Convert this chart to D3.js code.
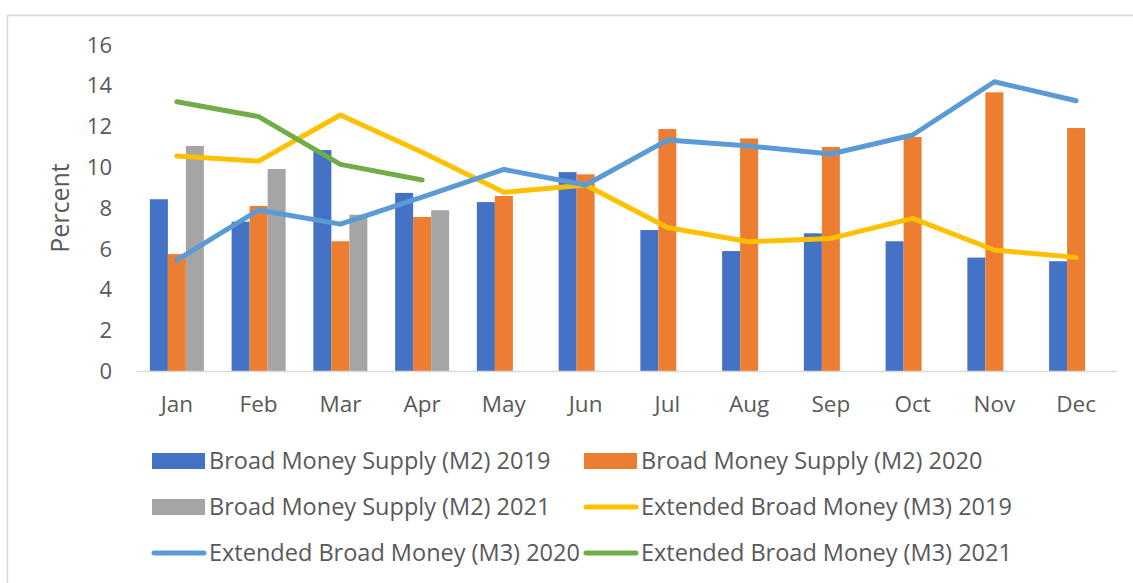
<!DOCTYPE html>
<html lang="en">
<head>
<meta charset="utf-8">
<title>Money supply</title>
<script src="https://d3js.org/d3.v7.min.js"></script>
<style>
body { margin:0; background:#fff; }
svg text { font-family: 'Open Sans', sans-serif; fill:#595959; }
</style>
</head>
<body>
<div id="chart"></div>
<script>
var months = ["Jan","Feb","Mar","Apr","May","Jun","Jul","Aug","Sep","Oct","Nov","Dec"];
var yTicks = [0,2,4,6,8,10,12,14,16];

var m2_2019 = [8.42,7.32,10.83,8.73,8.28,9.75,6.91,5.88,6.75,6.36,5.56,5.38];
var m2_2020 = [5.73,8.09,6.36,7.55,8.58,9.64,11.86,11.4,10.98,11.47,13.66,11.91];
var m2_2021 = [11.03,9.9,7.66,7.88];
var m3_2019 = [10.54,10.29,12.55,10.72,8.76,9.12,7.03,6.34,6.5,7.48,5.93,5.57];
var m3_2020 = [5.44,7.89,7.2,8.52,9.88,9.12,11.32,11.03,10.64,11.57,14.18,13.25];
var m3_2021 = [13.2,12.47,10.13,9.36];

var barSeries = [
  {name:"Broad Money Supply (M2) 2019", values:m2_2019, color:"#4472C4"},
  {name:"Broad Money Supply (M2) 2020", values:m2_2020, color:"#ED7D31"},
  {name:"Broad Money Supply (M2) 2021", values:m2_2021, color:"#A5A5A5"}
];
var lineSeries = [
  {name:"Extended Broad Money (M3) 2019", values:m3_2019, color:"#FFC000"},
  {name:"Extended Broad Money (M3) 2020", values:m3_2020, color:"#5B9BD5"},
  {name:"Extended Broad Money (M3) 2021", values:m3_2021, color:"#70AD47"}
];

var W = 1133, H = 583;
var svg = d3.select("#chart").append("svg").attr("width",W).attr("height",H);

svg.append("rect").attr("x",7.5).attr("y",15.5).attr("width",1130).attr("height",570)
  .attr("fill","none").attr("stroke","#d9d9d9").attr("stroke-width",1.5);

var x = d3.scaleBand().domain(months).range([136,1117]).paddingInner(0).paddingOuter(0);
var inner = d3.scaleBand().domain([0,1,2]).range([x.bandwidth()/2-27, x.bandwidth()/2+27]);
var y = d3.scaleLinear().domain([0,16]).range([371,44.6]);

// y tick labels
svg.append("g").selectAll("text").data(yTicks).enter().append("text")
  .attr("x",112).attr("y",function(d){ return y(d); }).attr("dy","0.36em")
  .attr("text-anchor","end").style("font-size","22px").text(function(d){ return d; });

svg.append("text").attr("transform","translate(60,208) rotate(-90)")
  .attr("text-anchor","middle").attr("dy","0.36em").style("font-size","25px").text("Percent");

// bars
barSeries.forEach(function(s,si){
  svg.append("g").selectAll("rect").data(s.values).enter().append("rect")
    .attr("x",function(d,i){ return x(months[i]) + inner(si); })
    .attr("width",inner.bandwidth())
    .attr("y",function(d){ return y(d); })
    .attr("height",function(d){ return y(0)-y(d); })
    .attr("fill",s.color);
});

// axis line
svg.append("line").attr("x1",136).attr("x2",1117).attr("y1",y(0)+0.5).attr("y2",y(0)+0.5)
  .attr("stroke","#d9d9d9").attr("stroke-width",1.5);

// month labels
svg.append("g").selectAll("text").data(months).enter().append("text")
  .attr("x",function(d){ return x(d)+x.bandwidth()/2; }).attr("y",404).attr("dy","0.36em")
  .attr("text-anchor","middle").style("font-size","22.5px").text(function(d){ return d; });

// lines
var line = d3.line()
  .x(function(d,i){ return x(months[i])+x.bandwidth()/2; })
  .y(function(d){ return y(d); });
lineSeries.forEach(function(s){
  svg.append("path").datum(s.values).attr("d",line)
    .attr("fill","none").attr("stroke",s.color).attr("stroke-width",5)
    .attr("stroke-linecap","round").attr("stroke-linejoin","round");
});

// legend
var legendItems = [
  {s:barSeries[0], type:"bar"}, {s:barSeries[1], type:"bar"},
  {s:barSeries[2], type:"bar"}, {s:lineSeries[0], type:"line"},
  {s:lineSeries[1], type:"line"}, {s:lineSeries[2], type:"line"}
];
var colX = [152, 584], rowY = [461, 507, 553];
legendItems.forEach(function(it,i){
  var gx = colX[i%2], gy = rowY[Math.floor(i/2)];
  var g = svg.append("g").attr("transform","translate("+gx+","+gy+")");
  if(it.type=="bar"){
    g.append("rect").attr("x",0).attr("y",-8).attr("width",53).attr("height",16).attr("fill",it.s.color);
  } else {
    g.append("line").attr("x1",2).attr("x2",52).attr("y1",0).attr("y2",0)
      .attr("stroke",it.s.color).attr("stroke-width",5).attr("stroke-linecap","round");
  }
  g.append("text").attr("x",57).attr("y",0).attr("dy","0.36em")
    .style("font-size","23.5px").text(it.s.name);
});
</script>
</body>
</html>
